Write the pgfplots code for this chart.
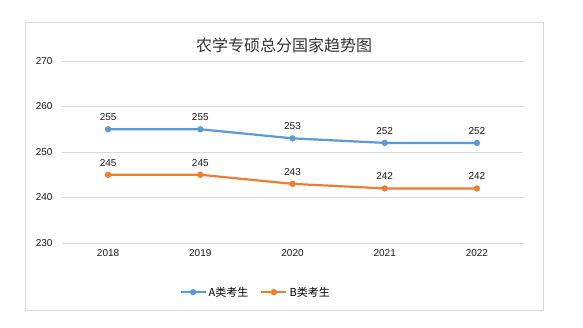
\documentclass[border=0pt]{standalone}
\usepackage{pgfplots}
\pgfplotsset{compat=1.18}
\usepackage{fontspec}
\setmainfont{Liberation Sans}
\newfontfamily\cjk{Noto Sans CJK SC}
\definecolor{sA}{HTML}{5B9BD5}
\definecolor{sB}{HTML}{ED7D31}
\definecolor{gridc}{HTML}{D9D9D9}
\begin{document}
\begin{tikzpicture}[x=1pt,y=1pt]
\path[use as bounding box] (0,0) rectangle (583,327);
\fill[white] (0,0) rectangle (583,327);
\draw[gridc, line width=0.8pt] (25,17) rectangle (543,305);
\node[font=\cjk\fontsize{16}{18}\selectfont, text=black!80] at (284,282) {农学专硕总分国家趋势图};
\begin{axis}[
  at={(62pt,84pt)}, anchor=south west,
  scale only axis, width=461pt, height=182pt,
  xmin=-0.5, xmax=4.5, ymin=230, ymax=270,
  xtick={0,1,2,3,4}, xticklabels={2018,2019,2020,2021,2022},
  ytick={230,240,250,260,270},
  axis line style={draw=none},
  ymajorgrids, grid style={gridc, line width=0.8pt},
  major tick length=0pt,
  tick label style={font=\fontsize{10}{12}\selectfont, text=black!90},
  /pgf/number format/assume math mode=true,
  /pgf/number format/1000 sep={},
  xticklabel style={yshift=-3pt},
  yticklabel style={xshift=-6pt},
  nodes near coords, nodes near coords style={font=\fontsize{10}{12}\selectfont, text=black!90, anchor=south, yshift=4pt},
  legend style={at={(0.42,-0.27)}, anchor=center, draw=none, fill=none, legend columns=2,
    font=\cjk\fontsize{11}{13}\selectfont, /tikz/every even column/.append style={column sep=10pt}},
  legend image code/.code={\draw[#1, mark=none] (0pt,0pt) -- (25pt,0pt); \draw[#1] plot coordinates {(12.5pt,0pt)};},
]
\addplot[sA, line width=2.2pt, mark=*, mark size=2pt] coordinates {(0,255) (1,255) (2,253) (3,252) (4,252)};
\addlegendentry{A类考生}
\addplot[sB, line width=2.2pt, mark=*, mark size=2pt] coordinates {(0,245) (1,245) (2,243) (3,242) (4,242)};
\addlegendentry{B类考生}
\end{axis}
\end{tikzpicture}
\end{document}
